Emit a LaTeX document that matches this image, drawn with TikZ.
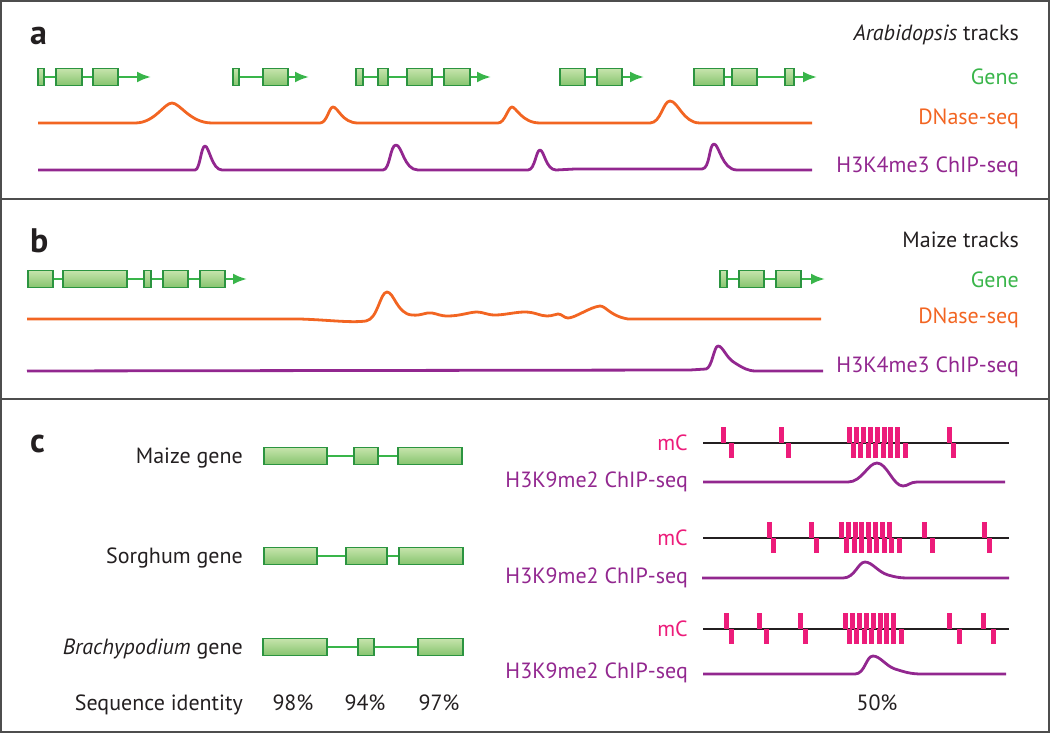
\documentclass[tikz,border=0pt]{standalone}
\usepackage{fontspec}
\setmainfont{PT Sans}
\usepackage{tikz}
\usetikzlibrary{arrows.meta}
\definecolor{GeneGreen}{HTML}{39B54A}
\definecolor{ExonEdge}{HTML}{2B9440}
\definecolor{ExonLight}{HTML}{C6E4AC}
\definecolor{ExonDark}{HTML}{86C46E}
\definecolor{DnaseOrange}{HTML}{F26522}
\definecolor{ChipPurple}{HTML}{92278F}
\definecolor{MethPink}{HTML}{EC1C7A}
\definecolor{FrameGray}{HTML}{4D4D4D}
\definecolor{Ink}{HTML}{231F20}
\tikzset{
  exon/.style={
    draw=ExonEdge,
    line width=1.5pt,
    top color=ExonLight,
    bottom color=ExonDark,
    minimum height=17pt,
    inner sep=0pt,
    anchor=west
  },
  intron/.style={draw=GeneGreen, line width=2.4pt},
  genearrow/.style={intron, -{Latex[length=14pt,width=11pt]}},
  dnase/.style={draw=DnaseOrange, line width=2.8pt, line join=round},
  chip/.style={draw=ChipPurple, line width=2.8pt, line join=round},
  mcline/.style={draw=Ink, line width=2.6pt},
  mctick/.style={fill=MethPink},
  panelframe/.style={draw=FrameGray, line width=2pt},
  panelletter/.style={anchor=base west, inner sep=0pt, text=Ink,
    font=\fontsize{34}{34}\selectfont\bfseries},
  tracklabel/.style={anchor=base east, inner sep=0pt,
    font=\fontsize{22}{26}\selectfont},
  pctlabel/.style={anchor=base, inner sep=0pt, text=Ink,
    font=\fontsize{22}{26}\selectfont}
}
% exons of one gene, named #1-1, #1-2, ..., joined by introns
\newcommand\exonrow[3]{%
  \foreach \l/\r [count=\i, remember=\i as \p (initially 0),
                  evaluate=\r as \w using \r-\l] in {#3} {
    \node[exon, minimum width=\w pt] (#1-\i) at (\l,#2) {};
    \ifnum\i>1 \draw[intron] (#1-\p) -- (#1-\i); \fi
  }%
}

\begin{document}
\begin{tikzpicture}[x=1pt, y=-1pt]
  \useasboundingbox (0,0) rectangle (1050,733);
  \draw[panelframe] (1,1) rectangle (1049,732);
  \draw[panelframe] (1,199) -- (1049,199);
  \draw[panelframe] (1,399) -- (1049,399);

  % panel a
  \node[panelletter] (la) at (30,45) {a};
  \node[tracklabel, text=Ink] (atitle) at (1019,41) {\textit{Arabidopsis} tracks};
  \node[tracklabel, text=GeneGreen] (agene) at (1019,85) {Gene};
  \node[tracklabel, text=DnaseOrange] (adnase) at (1019,125) {DNase-seq};
  \node[tracklabel, text=ChipPurple] (achip) at (1019,173) {H3K4me3 ChIP-seq};

  \exonrow{a1}{77}{37/43, 55/81, 92/117}
  \exonrow{a2}{77}{232/238, 262/287}
  \exonrow{a3}{77}{355/362, 377/387, 406/431, 443/469}
  \exonrow{a4}{77}{559/584, 596/621}
  \exonrow{a5}{77}{693/723, 731/756, 784/793}
  \coordinate (a1-tip) at (151,77);
  \coordinate (a2-tip) at (309,77);
  \coordinate (a3-tip) at (491,77);
  \coordinate (a4-tip) at (644,77);
  \coordinate (a5-tip) at (817,77);
  \draw[genearrow] (a1-3) -- (a1-tip);
  \draw[genearrow] (a2-2) -- (a2-tip);
  \draw[genearrow] (a3-4) -- (a3-tip);
  \draw[genearrow] (a4-2) -- (a4-tip);
  \draw[genearrow] (a5-3) -- (a5-tip);

  \draw[dnase] (38,123) -- (135,123)
    .. controls (155,123) and (164,103) .. (172,103)
    .. controls (180,103) and (190,123) .. (212,123) -- (320,123)
    .. controls (327,123) and (329,107) .. (333,107)
    .. controls (338,107) and (342,123) .. (358,123) -- (498,123)
    .. controls (505,123) and (508,107) .. (512,107)
    .. controls (516,107) and (522,123) .. (540,123) -- (650,123)
    .. controls (661,123) and (663,101) .. (670,101)
    .. controls (678,101) and (683,123) .. (700,123) -- (812,123);
  \draw[chip] (38,170) -- (195,170)
    .. controls (200,170) and (201,146) .. (205,146)
    .. controls (209,146) and (212,170) .. (222,170) -- (383,170)
    .. controls (390,170) and (390,145) .. (396,145)
    .. controls (402,145) and (404,170) .. (418,170) -- (528,170)
    .. controls (535,170) and (536,150) .. (540,150)
    .. controls (544,150) and (546,170) .. (556,170) -- (575,169) -- (702,169)
    .. controls (710,169) and (709,144) .. (714,144)
    .. controls (719,144) and (722,170) .. (737,170) -- (812,170);

  % panel b
  \node[panelletter] (lb) at (30,252) {b};
  \node[tracklabel, text=Ink] (btitle) at (1019,247) {Maize tracks};
  \node[tracklabel, text=GeneGreen] (bgene) at (1019,287) {Gene};
  \node[tracklabel, text=DnaseOrange] (bdnase) at (1019,323) {DNase-seq};
  \node[tracklabel, text=ChipPurple] (bchip) at (1019,372) {H3K4me3 ChIP-seq};

  \exonrow{b1}{279}{27/52, 62/126, 143/150, 162/187, 199/224}
  \exonrow{b2}{279}{719/726, 738/763, 775/800}
  \coordinate (b1-tip) at (247,279);
  \coordinate (b2-tip) at (825,279);
  \draw[genearrow] (b1-5) -- (b1-tip);
  \draw[genearrow] (b2-3) -- (b2-tip);

  \draw[dnase] (27,319) -- (300,319)
    .. controls (330,320) and (350,323) .. (366,321)
    .. controls (378,319) and (380,292) .. (387,292)
    .. controls (394,292) and (397,314) .. (412,315)
    .. controls (422,316) and (425,312) .. (432,313)
    .. controls (438,314) and (440,316) .. (448,316)
    .. controls (460,316) and (470,312) .. (477,312)
    .. controls (483,312) and (487,315) .. (495,315)
    .. controls (505,315) and (515,312) .. (525,312)
    .. controls (535,312) and (540,316) .. (547,316)
    .. controls (553,316) and (555,314) .. (558,314)
    .. controls (562,314) and (564,318) .. (568,318)
    .. controls (575,318) and (590,307) .. (600,306)
    .. controls (606,306) and (610,316) .. (628,319) -- (821,319);
  \draw[chip] (27,371) -- (690,370) -- (706,369)
    .. controls (712,368) and (714,346) .. (718,346)
    .. controls (723,346) and (726,358) .. (735,363)
    .. controls (743,368) and (748,371) .. (756,371) -- (823,371);

  % panel c
  \node[panelletter] (lc) at (30,452) {c};
  \node[tracklabel, text=Ink] (cmaize) at (243,463) {Maize gene};
  \node[tracklabel, text=Ink] (csorghum) at (243,563) {Sorghum gene};
  \node[tracklabel, text=Ink] (cbrachy) at (243,654) {\textit{Brachypodium} gene};
  \node[tracklabel, text=Ink] (cident) at (243,710) {Sequence identity};
  \node[pctlabel] (p1) at (293,710) {98\%};
  \node[pctlabel] (p2) at (365,710) {94\%};
  \node[pctlabel] (p3) at (439,710) {97\%};
  \node[pctlabel] (p4) at (877,710) {50\%};

  \exonrow{cm}{456}{263/326, 353/377, 397/461}
  \exonrow{cs}{556}{263/316, 345/386, 398/462}
  \exonrow{cb}{647}{262/326, 357/373, 417/462}

  \node[tracklabel, text=MethPink] (mc1) at (688,450) {mC};
  \node[tracklabel, text=ChipPurple] (k1) at (688,487) {H3K9me2 ChIP-seq};
  \node[tracklabel, text=MethPink] (mc2) at (688,545) {mC};
  \node[tracklabel, text=ChipPurple] (k2) at (688,583) {H3K9me2 ChIP-seq};
  \node[tracklabel, text=MethPink] (mc3) at (688,636) {mC};
  \node[tracklabel, text=ChipPurple] (k3) at (688,678) {H3K9me2 ChIP-seq};

  \draw[mcline] (703,443) -- (1009,443);
  \foreach \u/\d in {721/729, 779/786, 947/951}
    {\fill[mctick] (\u,443) rectangle ++(5,-16);
     \fill[mctick] (\d,443) rectangle ++(5,15);}
  \foreach \k in {0,...,7}
    {\fill[mctick] (847+6.9*\k,443) rectangle ++(5,-16);
     \fill[mctick] (851+7.4*\k,443) rectangle ++(5,15);}
  \draw[chip] (703,482) -- (848,482)
    .. controls (862,482) and (868,463) .. (877,463)
    .. controls (887,463) and (893,486) .. (903,486)
    .. controls (908,486) and (910,482) .. (917,482) -- (1005,482);

  \draw[mcline] (703,538) -- (1009,538);
  \foreach \u/\d in {767/771, 809/814, 922/930, 982/987}
    {\fill[mctick] (\u,538) rectangle ++(5,-16);
     \fill[mctick] (\d,538) rectangle ++(5,15);}
  \foreach \k in {0,...,7}
    {\fill[mctick] (839+6.8*\k,538) rectangle ++(5,-16);
     \fill[mctick] (844+7.5*\k,538) rectangle ++(5,15);}
  \draw[chip] (702,578) -- (843,578)
    .. controls (855,578) and (858,562) .. (865,562)
    .. controls (872,562) and (878,572) .. (888,575)
    .. controls (895,577) and (900,578) .. (907,578) -- (1009,578);

  \draw[mcline] (703,629) -- (1009,629);
  \foreach \u/\d in {724/729, 757/764, 798/803, 947/957, 981/991}
    {\fill[mctick] (\u,629) rectangle ++(5,-16);
     \fill[mctick] (\d,629) rectangle ++(5,15);}
  \foreach \k in {0,...,7}
    {\fill[mctick] (843+6.9*\k,629) rectangle ++(5,-16);
     \fill[mctick] (847+7.4*\k,629) rectangle ++(5,15);}
  \draw[chip] (703,674) -- (855,674)
    .. controls (865,674) and (866,656) .. (873,656)
    .. controls (880,656) and (886,666) .. (895,669)
    .. controls (905,672) and (910,674) .. (922,674) -- (1006,674);
\end{tikzpicture}
\end{document}
